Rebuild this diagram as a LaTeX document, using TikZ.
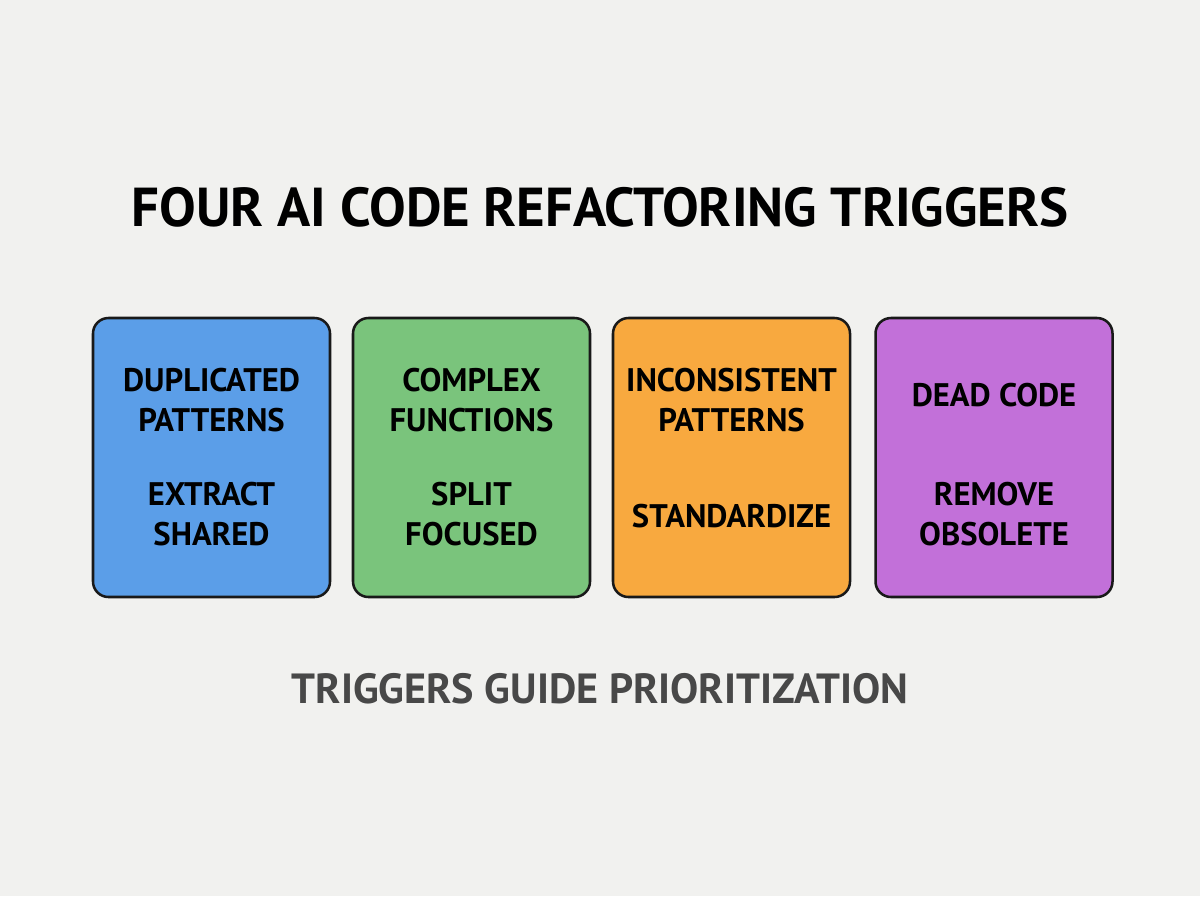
\documentclass[tikz,border=0pt]{standalone}
\usepackage{fontspec}
\setmainfont{PT Sans}
\usepackage{xcolor}
\usepackage{tikz}
\usetikzlibrary{calc}
\definecolor{bgcol}{HTML}{F1F1EF}
\definecolor{dupcol}{HTML}{5B9EE8}
\definecolor{cplxcol}{HTML}{7AC47C}
\definecolor{inccol}{HTML}{F8A93F}
\definecolor{deadcol}{HTML}{C270D9}
\definecolor{notecol}{HTML}{484848}
\tikzset{trigger/.style={draw=black!90, line width=1.8pt, rounded corners=11pt, minimum width=237*0.025cm, minimum height=279*0.025cm}}

\begin{document}
\begin{tikzpicture}[x=0.025cm, y=-0.025cm, every node/.style={font=\bfseries}]
  \fill[bgcol] (0,0) rectangle (1200,896);
  \useasboundingbox (0,0) rectangle (1200,896);

  \node (title) at (600,207) {\fontsize{39}{44}\selectfont FOUR AI CODE REFACTORING TRIGGERS};

  \begin{scope}[every node/.append style={align=center, font=\bfseries\fontsize{23.2}{28.5}\selectfont}]
  \node[trigger, fill=dupcol] (dup) at (211.5,457.5) {};
  \node[trigger, fill=cplxcol] (cplx) at (471.5,457.5) {};
  \node[trigger, fill=inccol] (inc) at (731.5,457.5) {};
  \node[trigger, fill=deadcol] (dead) at (994,457.5) {};

  \node (duptxt) at (211.5,400) {DUPLICATED\\PATTERNS};
  \node (dupfix) at (211.5,514) {EXTRACT\\SHARED};
  \node (cplxtxt) at (471.5,400) {COMPLEX\\FUNCTIONS};
  \node (cplxfix) at (471.5,514) {SPLIT\\FOCUSED};
  \node (inctxt) at (731.5,400) {INCONSISTENT\\PATTERNS};
  \node (incfix) at (731.5,516) {STANDARDIZE};
  \node (deadtxt) at (994,395) {DEAD CODE};
  \node (deadfix) at (994,514) {REMOVE\\OBSOLETE};
  \end{scope}

  \node[text=notecol] (note) at (600,689) {\fontsize{30}{34}\selectfont TRIGGERS GUIDE PRIORITIZATION};
\end{tikzpicture}
\end{document}
